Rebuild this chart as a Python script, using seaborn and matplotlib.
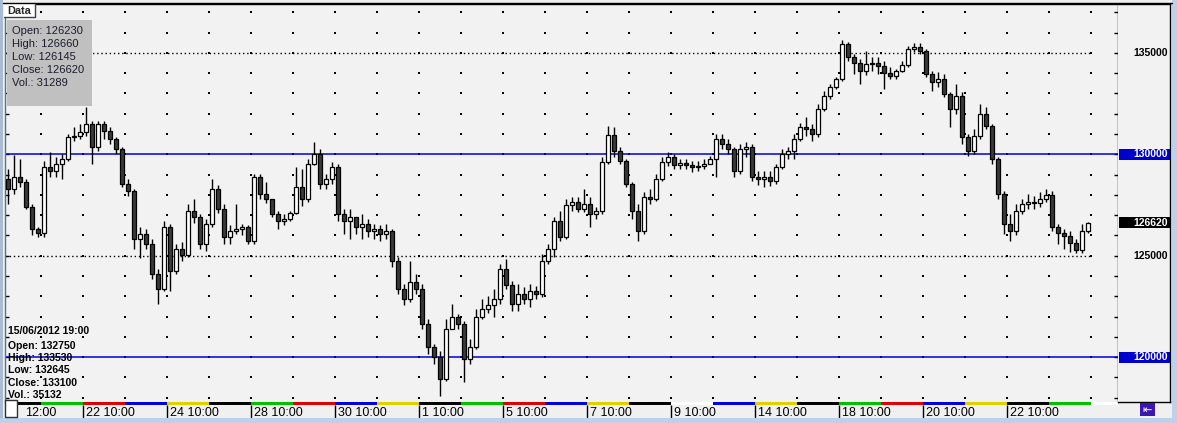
import numpy as np
import pandas as pd
import seaborn as sns
import matplotlib
matplotlib.use("Agg")
from matplotlib import pyplot as plt
from matplotlib.patches import Rectangle

# candles (one candle ~ two of the original bars)
opens = [128770, 128270, 128870, 128620, 127390, 126300, 126100, 129360, 129160, 129510,
         129750, 130840, 130890, 131080, 131480, 130350, 131480, 131130, 130740, 130250,
         128520, 128180, 125810, 126060, 125560, 124080, 123340, 126400, 124230, 125320,
         125020, 127190, 126890, 125560, 126550, 128270, 127290, 125910, 126200, 126300,
         126400, 125710, 128870, 128030, 127780, 127040, 126700, 126800, 127090, 128370,
         127780, 129510, 130000, 128520, 128770, 129360, 127040, 126700, 126890, 126400,
         126550, 126200, 126300, 126060, 126200, 124720, 123340, 122850, 123690, 123340,
         121620, 120480, 119990, 118910, 121370, 121960, 121620, 119890, 120480, 121960,
         122360, 122560, 122850, 124330, 123540, 122600, 123100, 122850, 123250, 123100,
         124720, 125320, 126700, 125910, 127490, 127630, 127290, 127540, 127040, 127190,
         129610, 130940, 130150, 129660, 128520, 127190, 126200, 127880, 127780, 128770,
         129610, 129850, 129460, 129560, 129460, 129360, 129410, 129510, 129750, 130740,
         130490, 130250, 129160, 130250, 130350, 128870, 128770, 128870, 128670, 129360,
         130000, 130150, 130740, 131330, 131230, 130990, 132220, 132860, 133300, 133700,
         135420, 134780, 134490, 134090, 134440, 134490, 134340, 133990, 133850, 134090,
         134390, 135180, 135280, 135080, 133940, 133550, 133700, 132960, 132220, 132860,
         130840, 130150, 130890, 131970, 131380, 129750, 128030, 126550, 126200, 127190,
         127540, 127630, 127580, 127780, 127980, 126400, 126100, 125960, 125610, 125270,
         126230]

highs = [129260, 129950, 129750, 128770, 127540, 126400, 129660, 130100, 129850, 130000,
         130990, 131330, 131480, 132320, 131630, 131630, 131630, 131330, 130840, 130350,
         128770, 128270, 126400, 126300, 125810, 124330, 126700, 126550, 125560, 125660,
         127540, 127780, 127040, 126800, 128770, 128470, 127540, 126500, 127540, 126550,
         126500, 129010, 129010, 128620, 127780, 127190, 127040, 127190, 129360, 129260,
         129750, 130590, 130250, 129010, 129610, 129510, 127290, 127290, 126890, 127040,
         126800, 126550, 126500, 126550, 126300, 124920, 123590, 124720, 124080, 123590,
         121870, 120630, 120290, 121870, 122600, 122110, 121770, 120880, 122360, 122850,
         123000, 123340, 124580, 124820, 123740, 123590, 123440, 123590, 123490, 125070,
         125560, 126890, 127190, 127780, 127880, 127880, 128270, 127880, 127390, 129850,
         131380, 131330, 130350, 129750, 128620, 127540, 128130, 128270, 129010, 129850,
         130100, 130000, 129750, 129750, 129660, 129660, 129750, 129900, 130990, 130990,
         130740, 130350, 130490, 130590, 130490, 129160, 129160, 129160, 129510, 130250,
         130350, 130990, 131530, 131820, 131480, 132470, 133110, 133450, 133800, 135620,
         135520, 134930, 134680, 135080, 134780, 134780, 134590, 134290, 134190, 134590,
         135320, 135470, 135470, 135180, 134090, 134040, 133940, 133060, 133450, 133060,
         130990, 131230, 132470, 132320, 131480, 129850, 128180, 127040, 127540, 127780,
         128030, 127930, 128130, 128270, 128180, 126550, 126300, 126200, 125810, 126550,
         126660]

lows = [127540, 128030, 128370, 127290, 126010, 125910, 125910, 128870, 128870, 128770,
        129660, 130640, 130740, 130890, 129510, 130150, 130740, 130490, 130000, 128370,
        127930, 125320, 124870, 125320, 123840, 122600, 123250, 123250, 124080, 124720,
        124920, 126600, 125320, 125220, 126400, 127090, 125560, 125560, 126060, 126010,
        125560, 125560, 127780, 127580, 126890, 126300, 126500, 126700, 127040, 127440,
        127630, 129460, 128270, 128270, 128520, 126700, 126060, 125810, 126060, 125810,
        125910, 125810, 125710, 125810, 124430, 123100, 122560, 122700, 123100, 121370,
        120140, 119650, 118070, 118810, 121370, 121370, 118760, 119650, 120390, 121870,
        122160, 121960, 122600, 123340, 122260, 122260, 122600, 122460, 122850, 122950,
        124580, 124920, 125710, 125810, 127190, 127140, 127140, 126400, 126800, 127040,
        129510, 129850, 129510, 128370, 126800, 125710, 126060, 127540, 127680, 128670,
        129410, 129260, 129260, 129260, 129110, 129160, 129260, 129510, 128870, 130250,
        130000, 128870, 129010, 129850, 128670, 128470, 128370, 128420, 128520, 129260,
        129750, 129750, 130640, 130890, 130640, 130840, 132120, 132710, 133200, 133600,
        134590, 133940, 133450, 133900, 134090, 133940, 133200, 133700, 133700, 134040,
        134290, 135030, 134930, 133800, 133110, 133300, 132810, 131330, 131970, 130490,
        129900, 130000, 130740, 131230, 129510, 127780, 126060, 125710, 126010, 127040,
        127290, 127290, 127390, 127630, 126200, 125560, 125320, 125170, 125120, 125120,
        126145]

closes = [128270, 128870, 128620, 127390, 126300, 126100, 129360, 129160, 129510, 129750,
          130840, 130890, 131080, 131480, 130350, 131480, 131130, 130740, 130250, 128520,
          128180, 125810, 126060, 125560, 124080, 123340, 126400, 124230, 125320, 125020,
          127190, 126890, 125560, 126550, 128270, 127290, 125910, 126200, 126300, 126400,
          125710, 128870, 128030, 127780, 127040, 126700, 126800, 127090, 128370, 127780,
          129510, 130000, 128520, 128770, 129360, 127040, 126700, 126890, 126400, 126550,
          126200, 126300, 126060, 126200, 124720, 123340, 122850, 123690, 123340, 121620,
          120480, 119990, 118910, 121370, 121960, 121620, 119890, 120480, 121960, 122360,
          122560, 122850, 124330, 123540, 122600, 123100, 122850, 123250, 123100, 124720,
          125320, 126700, 125910, 127490, 127630, 127290, 127540, 127040, 127190, 129610,
          130940, 130150, 129660, 128520, 127190, 126200, 127880, 127780, 128770, 129610,
          129850, 129460, 129560, 129460, 129360, 129410, 129510, 129750, 130740, 130490,
          130250, 129160, 130250, 130350, 128870, 128770, 128870, 128670, 129360, 130000,
          130150, 130740, 131330, 131230, 130990, 132220, 132860, 133300, 133700, 135420,
          134780, 134490, 134090, 134440, 134490, 134340, 133990, 133850, 134090, 134390,
          135180, 135280, 135080, 133940, 133550, 133700, 132960, 132220, 132860, 130840,
          130150, 130890, 131970, 131380, 129750, 128030, 126550, 126200, 127190, 127540,
          127630, 127580, 127780, 127980, 126400, 126100, 125960, 125610, 125270, 126230,
          126620]

# one colour per trading day along the bottom strip
day_colors = ['black', 'green', 'red', 'blue', 'yellow', 'black', 'green', 'red', 'blue',
              'yellow', 'black', 'green', 'red', 'blue', 'yellow', 'black', 'white', 'blue',
              'yellow', 'black', 'green', 'red', 'blue', 'yellow', 'black', 'green', 'white']
strip_rgb = {'black': '#000000', 'green': '#00C000', 'red': '#E00000', 'blue': '#0000E0',
             'yellow': '#E0D000', 'white': '#FFFFFF'}
day_labels = ['22 10:00', '24 10:00', '28 10:00', '30 10:00', '1 10:00', '5 10:00',
              '7 10:00', '9 10:00', '14 10:00', '18 10:00', '20 10:00', '22 10:00']

blue_levels = [130000, 120000]
dotted_levels = [135000, 125000]
plain_labels = [135000, 125000]
last_price = 126620

info_lines = ['Open: 126230', 'High: 126660', 'Low: 126145', 'Close: 126620', 'Vol.: 31289']
hover_title = '15/06/2012 19:00'
hover_lines = ['Open: 132750', 'High: 133530', 'Low: 132645', 'Close: 133100', 'Vol.: 35132']

sns.set_style("white")
plt.rcParams['font.family'] = ['Liberation Sans', 'DejaVu Sans']

W, H = 1177, 423
def px(x0, y0, x1, y1):
    return [x0 / W, 1 - y1 / H, (x1 - x0) / W, (y1 - y0) / H]

XLIM = (-0.5, 185)
YLIM = (117791, 137408)

fig = plt.figure(figsize=(W / 100, H / 100), dpi=100, facecolor='#F0F0F0')

ax = fig.add_axes(px(5, 4, 1118, 402))
ax.set_facecolor('#F2F2F2')
ax.set_xlim(*XLIM)
ax.set_ylim(*YLIM)

df = pd.DataFrame({'x': np.arange(len(closes)), 'o': opens, 'h': highs, 'l': lows, 'c': closes})
up = df['c'] >= df['o']

# dotted background grid
gx, gy = np.meshgrid(5.5 + 7 * np.arange(26), np.arange(118000, 137001, 1000))
sns.scatterplot(x=gx.ravel(), y=gy.ravel(), ax=ax, color='black', s=0.85, marker='s',
                linewidth=0, legend=False, zorder=1)

for v in blue_levels:
    ax.axhline(v, color='#0000DD', lw=1.1, zorder=2)
ax.hlines(dotted_levels, XLIM[0], len(closes) - 0.7, color='black', lw=1,
          linestyles=(0, (1, 2)), zorder=2)

ax.vlines(df['x'], df['l'], df['h'], color='black', lw=1, zorder=3)
ax.bar(df['x'], (df['c'] - df['o']).abs(), bottom=np.minimum(df['o'], df['c']), width=0.6,
       color=np.where(up, 'white', '#3A3A3A'), edgecolor='black', linewidth=0.9, zorder=4)

ax.set_xticks([])
ax.set_yticks(np.arange(118000, 137001, 1000))
ax.tick_params(axis='y', direction='in', length=3, width=1, color='black',
               left=True, right=True, labelleft=False, labelright=False)
for s in ['top', 'right']:
    ax.spines[s].set_color('black')
ax.spines['left'].set_color('#5E6E84')
ax.spines['bottom'].set_visible(False)
for s in ax.spines.values():
    s.set_linewidth(1)

# colour strip of days
ax_s = fig.add_axes(px(5, 402, 1118, 405))
ax_s.set_xlim(*XLIM)
ax_s.set_ylim(0, 1)
edges = np.r_[XLIM[0], 5.5 + 7 * np.arange(26), XLIM[1]]
for a, b, c in zip(edges[:-1], edges[1:], day_colors):
    ax_s.axvspan(a, b, color=strip_rgb[c], lw=0)
ax_s.axis('off')

# time labels
ax_l = fig.add_axes(px(5, 405, 1118, 418))
ax_l.set_xlim(*XLIM)
ax_l.set_ylim(0, 1)
ax_l.axis('off')
lab_x = 12.5 + 14 * np.arange(len(day_labels))
ax_l.vlines(lab_x, 0, 1, color='black', lw=1)
for xx, t in zip(lab_x, day_labels):
    ax_l.text(xx + 0.45, 0.42, t, fontsize=9, ha='left', va='center', color='black')
ax_l.text(2.8, 0.42, '12:00', fontsize=9, ha='left', va='center', color='black')

# price scale on the right
ax_r = fig.add_axes(px(1118, 4, 1170, 402))
ax_r.set_facecolor('#F2F2F2')
ax_r.set_ylim(*YLIM)
ax_r.set_xlim(0, 1)
ax_r.set_xticks([])
ax_r.set_yticks([])
ax_r.spines['left'].set_visible(False)
for s in ['top', 'right', 'bottom']:
    ax_r.spines[s].set_color('black')
    ax_r.spines[s].set_linewidth(1)
for v in blue_levels:
    ax_r.axhspan(v - 275, v + 275, xmin=0.02, xmax=1, color='#0000CC', lw=0)
    ax_r.text(0.95, v, f'{v}', color='white', fontsize=7.5, fontweight='bold',
              ha='right', va='center')
ax_r.axhspan(last_price - 275, last_price + 275, xmin=0.02, xmax=1, color='black', lw=0)
ax_r.text(0.95, last_price, f'{last_price}', color='white', fontsize=7.5, fontweight='bold',
          ha='right', va='center')
for v in plain_labels:
    ax_r.text(0.95, v, f'{v}', color='black', fontsize=7.5, fontweight='bold',
              ha='right', va='center')

# window decorations, in pixels
ov = fig.add_axes([0, 0, 1, 1], zorder=10)
ov.set_xlim(0, W)
ov.set_ylim(H, 0)
ov.axis('off')
ov.patch.set_alpha(0)
ov.add_patch(Rectangle((0, 418), W, 5, fc='#BCD2EC', lw=0))
ov.add_patch(Rectangle((1172, 0), 5, H, fc='#BCD2EC', lw=0))
ov.add_patch(Rectangle((0, 0), 3, 418, fc='#A9BCD4', lw=0))
ov.plot([3, 1172], [3.5, 3.5], color='black', lw=1)

ov.add_patch(Rectangle((4, 4), 31, 13, fc='white', lw=0))
ov.plot([35, 35, 4], [4, 17, 17], color='#404040', lw=1)
ov.text(7, 10.5, 'Data', fontsize=7.8, fontweight='bold', va='center', ha='left')

ov.add_patch(Rectangle((7, 20), 85, 86, fc='#C0C0C0', lw=0))
for i, t in enumerate(info_lines):
    ov.text(12, 31 + 12.9 * i, t, fontsize=8, color='#1C1C30', va='center', ha='left')

ov.text(8, 330.5, hover_title, fontsize=7.5, fontweight='bold', color='black', va='center')
for i, t in enumerate(hover_lines):
    ov.text(8, 346 + 12.2 * i, t, fontsize=7.5, fontweight='bold', color='black', va='center')

ov.add_patch(Rectangle((5, 400), 12, 17, fc='white', ec='#303030', lw=1))
ov.add_patch(Rectangle((1140, 403), 15, 13.5, fc='#3A18B0', lw=0))
ov.text(1147.5, 409.8, '\u21e4', color='white', fontsize=8, ha='center', va='center',
        family=['DejaVu Sans'])

plt.savefig('out.png', dpi=100, facecolor=fig.get_facecolor())
